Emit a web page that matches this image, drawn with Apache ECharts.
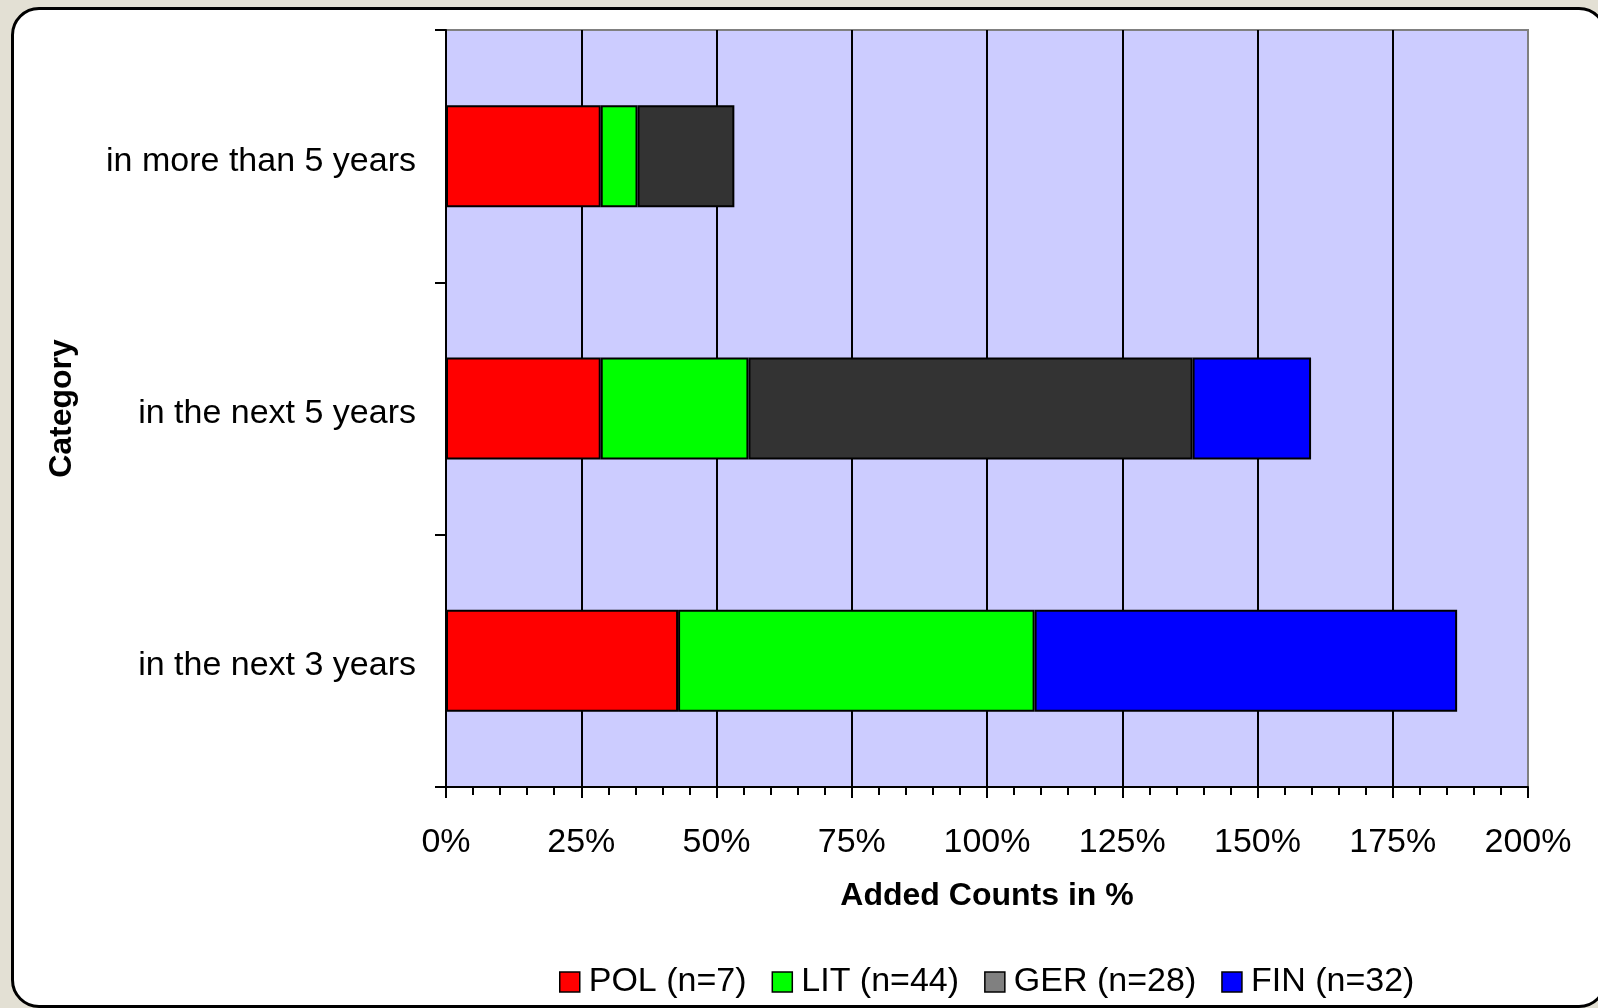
<!DOCTYPE html>
<html>
<head>
<meta charset="utf-8">
<script src="https://cdn.jsdelivr.net/npm/echarts@6/dist/echarts.min.js"></script>
<style>
  html, body { margin:0; padding:0; background:#e3e0d4; overflow:hidden; }
  #card {
    position:absolute; left:11px; top:7px; width:1590px; height:995px;
    background:#fff; border:3px solid #000; border-radius:28px;
  }
  #chart { position:absolute; left:0; top:0; width:1598px; height:1008px; }
</style>
</head>
<body>
<div id="card"></div>
<div id="chart"></div>
<script>
// categories, bottom to top as ECharts draws them
const categories = ["in the next 3 years", "in the next 5 years", "in more than 5 years"];

const seriesNames = ["POL (n=7)", "LIT (n=44)", "GER (n=28)", "FIN (n=32)"];
const polVals = [42.9, 28.6, 28.6];
const litVals = [65.9, 27.3, 6.8];
const gerVals = [0, 82.1, 17.9];
const finVals = [78.1, 21.9, 0];

const barColors = ["#ff0000", "#00ff00", "#333333", "#0000ff"];
const legendColors = ["#ff0000", "#00ff00", "#808080", "#0000ff"];

const xTicks = [0, 25, 50, 75, 100, 125, 150, 175, 200];

const FONT = "Liberation Sans, Arial, sans-serif";

function initChart(){
  const el = document.getElementById("chart");
  const chart = echarts.init(el, null, { renderer: "canvas" });

  const allVals = [polVals, litVals, gerVals, finVals];
  const series = seriesNames.map((name, i) => ({
    name: name,
    type: "bar",
    stack: "total",
    barWidth: 102,
    itemStyle: { color: barColors[i], borderColor: "#000", borderWidth: 2 },
    emphasis: { disabled: true },
    data: allVals[i].map(v => v === 0 ? null : v)
  }));

  // split lines black, except the right edge which is the grey plot frame
  const splitColors = xTicks.map((t, i) => i === xTicks.length - 1 ? "#808080" : "#000");

  chart.setOption({
    animation: false,
    textStyle: { fontFamily: FONT },
    grid: {
      left: 446, top: 30, right: 70, bottom: 221,
      show: true, backgroundColor: "#ccccff",
      borderColor: "#808080", borderWidth: 2
    },
    legend: {
      bottom: 4,
      left: 554,
      itemWidth: 20, itemHeight: 20, itemGap: 25,
      icon: "rect",
      textStyle: { fontSize: 34, color: "#000", fontFamily: FONT, padding: [0, 0, 0, 4] },
      itemStyle: { borderColor: "#000", borderWidth: 1.5 },
      data: seriesNames.map((n, i) => ({ name: n, itemStyle: { color: legendColors[i] } }))
    },
    xAxis: {
      type: "value",
      min: 0, max: 200, interval: 25,
      name: "Added Counts in %",
      nameLocation: "middle",
      nameGap: 93,
      nameTextStyle: { fontSize: 32, fontWeight: "bold", color: "#000", fontFamily: FONT },
      axisLine: { show: true, lineStyle: { color: "#000", width: 2 } },
      axisTick: { show: true, length: 11, lineStyle: { color: "#000", width: 2 } },
      minorTick: { show: true, splitNumber: 5, length: 8, lineStyle: { color: "#000", width: 2 } },
      splitLine: { show: true, lineStyle: { color: splitColors, width: 2 } },
      axisLabel: { formatter: "{value}%", fontSize: 34, color: "#000", margin: 39, fontFamily: FONT }
    },
    yAxis: {
      type: "category",
      data: categories,
      name: "Category",
      nameLocation: "middle",
      nameGap: 368,
      nameRotate: 90,
      nameTextStyle: { fontSize: 32, fontWeight: "bold", color: "#000", fontFamily: FONT },
      axisLine: { show: true, lineStyle: { color: "#000", width: 2 } },
      axisTick: { show: true, length: 11, lineStyle: { color: "#000", width: 2 } },
      splitLine: { show: false },
      axisLabel: { fontSize: 34, color: "#000", margin: 30, fontFamily: FONT, verticalAlign: "top", lineHeight: 10 }
    },
    series: series
  });

  window.addEventListener("resize", () => chart.resize());
}

document.addEventListener("DOMContentLoaded", initChart);
</script>
</body>
</html>
